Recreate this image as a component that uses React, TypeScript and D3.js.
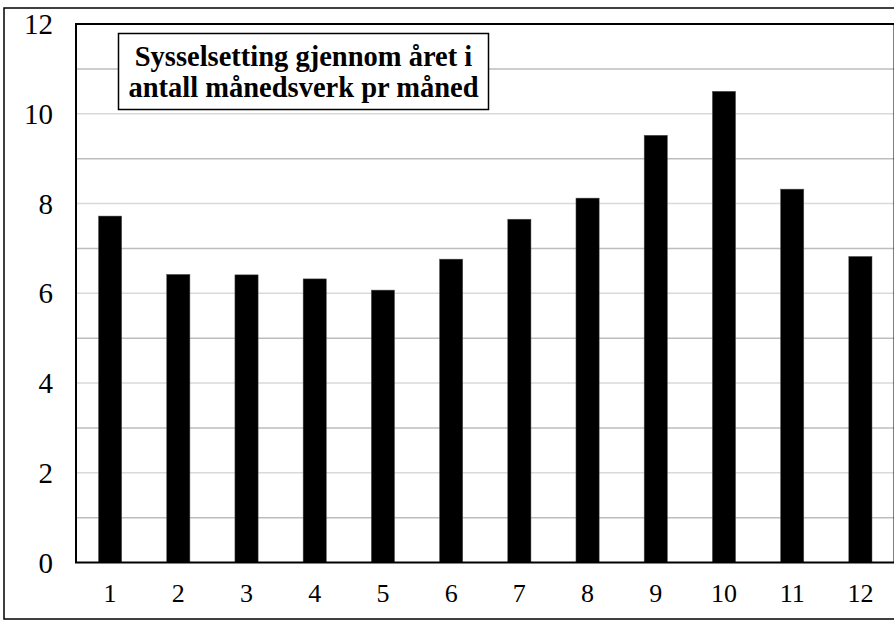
import React from 'react';
import * as d3 from 'd3';

const months = ['1', '2', '3', '4', '5', '6', '7', '8', '9', '10', '11', '12'];
const values = [7.72, 6.42, 6.41, 6.32, 6.07, 6.76, 7.65, 8.12, 9.52, 10.5, 8.32, 6.82];
const yTicks = [0, 2, 4, 6, 8, 10, 12];
const gridValues = [1, 2, 3, 4, 5, 6, 7, 8, 9, 10, 11];
const titleLines = ['Sysselsetting gjennom året i', 'antall månedsverk pr måned'];

const W = 894;
const H = 625;
const plot = { left: 76, top: 24, right: 894.5, bottom: 562.5 };
const font = 'Liberation Serif';

const App = () => {
  const x = d3.scaleBand()
    .domain(months)
    .range([plot.left, plot.right])
    .paddingInner(0.66)
    .paddingOuter(0.33);

  const y = d3.scaleLinear()
    .domain([0, 12])
    .range([plot.bottom, plot.top]);

  return (
    <svg width={W} height={H} style={{ position: 'absolute', left: 0, top: 0, background: '#fff' }}>
      {/* outer chart border */}
      <rect x={4} y={8} width={W + 20} height={611} fill="#fff" stroke="#000" strokeWidth={1.5} />

      {/* gridlines */}
      {gridValues.map(v => (
        <line key={v} x1={plot.left} x2={plot.right} y1={y(v)} y2={y(v)}
          stroke={v % 2 ? '#bdbdbd' : '#d9d9d9'} strokeWidth={1.5} />
      ))}

      {/* bars */}
      {values.map((v, i) => (
        <rect key={i} x={x(months[i])} y={y(v)} width={x.bandwidth()} height={y(0) - y(v)}
          fill="#000" stroke="#555" strokeWidth={0.5} />
      ))}

      {/* plot area frame */}
      <rect x={plot.left} y={plot.top} width={plot.right - plot.left} height={plot.bottom - plot.top}
        fill="none" stroke="#000" strokeWidth={2} />

      {/* y tick labels */}
      {yTicks.map(t => (
        <text key={t} x={53} y={y(t)} dy="0.35em" textAnchor="end"
          style={{ fontFamily: font }} fontSize={29} fill="#000">{t}</text>
      ))}

      {/* x tick labels */}
      {months.map(m => (
        <text key={m} x={x(m) + x.bandwidth() / 2} y={602} textAnchor="middle"
          style={{ fontFamily: font }} fontSize={26} fill="#000">{m}</text>
      ))}

      {/* title box */}
      <rect x={118.5} y={33.5} width={370} height={76} fill="#fff" stroke="#000" strokeWidth={1.5} />
      {titleLines.map((line, i) => (
        <text key={i} x={303.5} y={66 + i * 31} textAnchor="middle"
          style={{ fontFamily: font }} fontSize={28.5} fontWeight="bold" fill="#000">{line}</text>
      ))}
    </svg>
  );
};

export default App;
